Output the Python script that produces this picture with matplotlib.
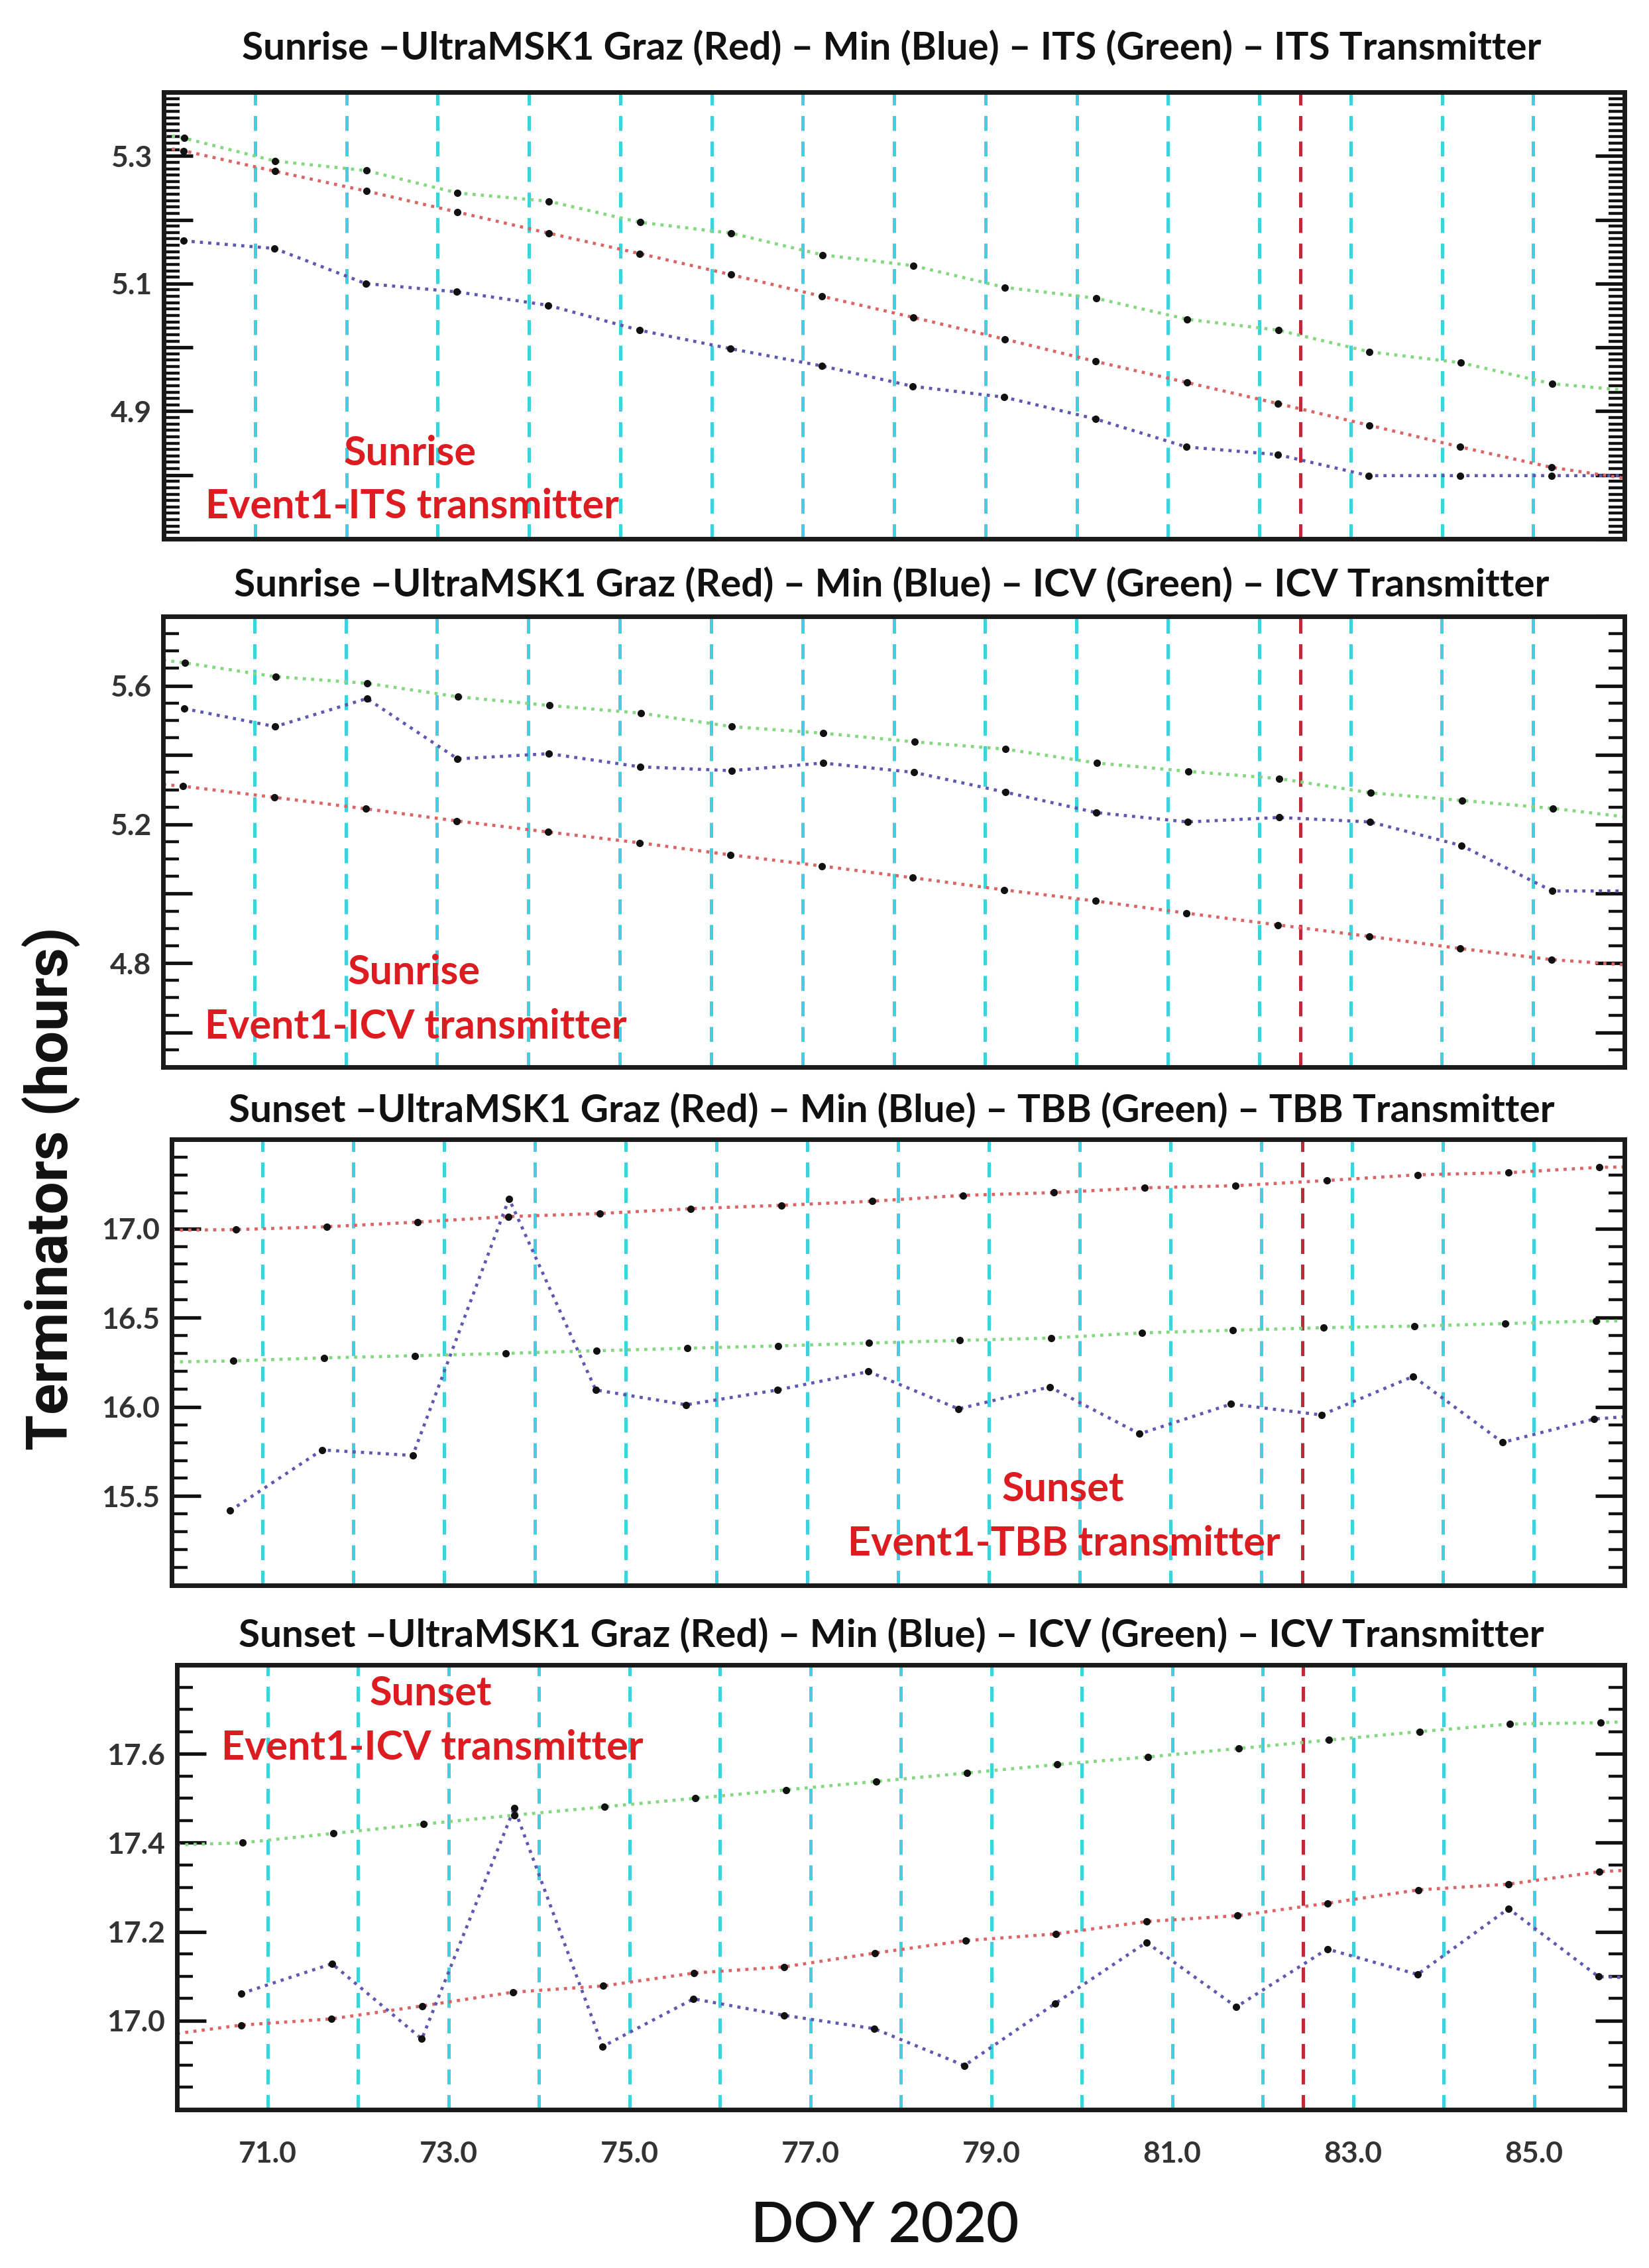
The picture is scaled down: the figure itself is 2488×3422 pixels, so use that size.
import numpy as np
import matplotlib
matplotlib.use("Agg")
import matplotlib.pyplot as plt
from matplotlib.ticker import MultipleLocator, FuncFormatter

# ---------------- data ----------------
DAYS = list(range(70, 86))          # DOY of each point (time = DOY + hours/24)
EVENT_DOY = 82.45                   # event marker (red dashed line)

# Panel 1 : Sunrise - ITS
P1_RED   = [5.308, 5.276, 5.245, 5.212, 5.179, 5.147, 5.114, 5.080, 5.047, 5.013, 4.978, 4.945, 4.912, 4.878, 4.844, 4.812]
P1_BLUE  = [5.167, 5.155, 5.100, 5.087, 5.066, 5.027, 4.998, 4.971, 4.939, 4.922, 4.888, 4.844, 4.832, 4.799, 4.799, 4.799]
P1_GREEN = [5.328, 5.292, 5.277, 5.242, 5.229, 5.196, 5.179, 5.145, 5.128, 5.094, 5.077, 5.044, 5.027, 4.993, 4.976, 4.943]
P1_EDGES = {"red": (5.313, 4.795), "blue": (None, 4.799), "green": (5.333, 4.933)}

# Panel 2 : Sunrise - ICV
P2_RED   = [5.310, 5.278, 5.245, 5.210, 5.178, 5.147, 5.112, 5.080, 5.046, 5.011, 4.979, 4.944, 4.910, 4.877, 4.842, 4.810]
P2_BLUE  = [5.534, 5.482, 5.563, 5.389, 5.404, 5.366, 5.355, 5.377, 5.350, 5.293, 5.234, 5.207, 5.220, 5.207, 5.139, 5.008]
P2_GREEN = [5.666, 5.626, 5.607, 5.568, 5.543, 5.521, 5.482, 5.463, 5.438, 5.417, 5.377, 5.353, 5.332, 5.291, 5.269, 5.246]
P2_EDGES = {"red": (5.315, 4.795), "blue": (None, 5.008), "green": (5.674, 5.222)}

# Panel 3 : Sunset - TBB
P3_RED   = [16.994, 17.010, 17.036, 17.067, 17.084, 17.111, 17.130, 17.153, 17.186, 17.201, 17.228, 17.240, 17.269, 17.301, 17.313, 17.343]
P3_BLUE  = [15.418, 15.759, 15.728, 17.167, 16.095, 16.012, 16.095, 16.198, 15.989, 16.112, 15.849, 16.016, 15.955, 16.171, 15.801, 15.932]
P3_GREEN = [16.258, 16.275, 16.287, 16.300, 16.315, 16.329, 16.342, 16.358, 16.373, 16.386, 16.415, 16.430, 16.444, 16.453, 16.467, 16.482]
P3_EDGES = {"red": (16.990, 17.345), "blue": (None, 15.945), "green": (16.252, 16.482)}

# Panel 4 : Sunset - ICV
P4_RED   = [16.990, 17.004, 17.033, 17.064, 17.078, 17.107, 17.121, 17.152, 17.180, 17.195, 17.223, 17.236, 17.264, 17.294, 17.307, 17.335]
P4_BLUE  = [17.061, 17.128, 16.959, 17.478, 16.942, 17.049, 17.012, 16.982, 16.899, 17.039, 17.176, 17.031, 17.161, 17.104, 17.252, 17.099]
P4_GREEN = [17.400, 17.421, 17.442, 17.462, 17.481, 17.500, 17.519, 17.538, 17.557, 17.576, 17.593, 17.612, 17.631, 17.650, 17.667, 17.670]
P4_EDGES = {"red": (16.971, 17.338), "blue": (None, 17.097), "green": (17.395, 17.672)}

TITLES = [
    "Sunrise \u2013UltraMSK1 Graz (Red) \u2013 Min (Blue) \u2013 ITS (Green) \u2013 ITS Transmitter",
    "Sunrise \u2013UltraMSK1 Graz (Red) \u2013 Min (Blue) \u2013 ICV (Green) \u2013 ICV Transmitter",
    "Sunset \u2013UltraMSK1 Graz (Red) \u2013 Min (Blue) \u2013 TBB (Green) \u2013 TBB Transmitter",
    "Sunset \u2013UltraMSK1 Graz (Red) \u2013 Min (Blue) \u2013 ICV (Green) \u2013 ICV Transmitter",
]
NOTES = [
    ("Sunrise", "Event1-ITS transmitter"),
    ("Sunrise", "Event1-ICV transmitter"),
    ("Sunset", "Event1-TBB transmitter"),
    ("Sunset", "Event1-ICV transmitter"),
]
Y_LIMITS = [(4.70, 5.40), (4.50, 5.80), (15.0, 17.5), (16.8, 17.8)]
Y_LABELED = [[5.3, 5.1, 4.9], [5.6, 5.2, 4.8], [17.0, 16.5, 16.0, 15.5], [17.6, 17.4, 17.2, 17.0]]
X_LABELED = [71, 73, 75, 77, 79, 81, 83, 85]
XLABEL = "DOY 2020"
YLABEL = "Terminators (hours)"

# ---------------- styling / layout ----------------
W, H = 2488, 3422
fig = plt.figure(figsize=(W / 100, H / 100), dpi=100)
fig.patch.set_facecolor("white")

C_RED, C_BLUE, C_GREEN = "#dc6464", "#5f58b0", "#84d880"
C_CYAN, C_EVENT, C_NOTE = "#40d0e0", "#bc2c38", "#dc1c20"
TITLE_FONT = dict(family=["Lato", "DejaVu Sans"], weight="bold", size=42, color="#111111")
NOTE_FONT = dict(family=["Lato", "DejaVu Sans"], weight="bold", size=44, color=C_NOTE)
TICK_FONT = dict(family=["Lato", "DejaVu Sans"], weight="bold", size=32)

# pixel boxes (left, top, right, bottom)
BOXES = [(247, 139, 2451, 813), (246, 930, 2451, 1610), (259, 1719, 2451, 2392), (267, 2512, 2451, 3183)]
TITLE_Y = [73, 883, 1676, 2468]
TITLE_X = 1345
NOTE_POS = [((619, 684), (622, 764)), ((625, 1467), (627, 1549)),
            ((1604, 2247), (1605, 2329)), ((650, 2555), (652, 2637))]
Y_STEPS = [(0.1, 0.01), (0.2, 0.05), (0.5, 0.1), (0.2, 0.05)]

series_sets = [
    (P1_RED, P1_BLUE, P1_GREEN, P1_EDGES),
    (P2_RED, P2_BLUE, P2_GREEN, P2_EDGES),
    (P3_RED, P3_BLUE, P3_GREEN, P3_EDGES),
    (P4_RED, P4_BLUE, P4_GREEN, P4_EDGES),
]

XMIN, XMAX = 70, 86


def fx(px):
    return px / W


def fy(py):
    return 1 - py / H


for i, (l, t, r, b) in enumerate(BOXES):
    ax = fig.add_axes([l / W, 1 - b / H, (r - l) / W, (b - t) / H])
    ax.set_xlim(XMIN, XMAX)
    ax.set_ylim(*Y_LIMITS[i])

    # integer-day cyan dashed grid
    ax.xaxis.set_major_locator(MultipleLocator(1))
    ax.grid(axis="x", which="major", color=C_CYAN, linestyle=(0, (4.5, 3.2)), linewidth=3.6, zorder=1)
    ax.set_axisbelow(True)
    ax.axvline(EVENT_DOY, color=C_EVENT, linestyle=(0, (4.5, 3.2)), linewidth=3.6, zorder=2)

    red, blue, green, edges = series_sets[i]
    for vals, col, key in ((red, C_RED, "red"), (green, C_GREEN, "green"), (blue, C_BLUE, "blue")):
        x = list(np.array(DAYS) + np.array(vals) / 24.0)
        y = list(vals)
        left, right = edges[key]
        if left is not None:
            x = [XMIN] + x
            y = [left] + y
        if right is not None:
            x = x + [XMAX]
            y = y + [right]
        ax.plot(x, y, linestyle=":", color=col, linewidth=3.4, zorder=3)
        xm = np.array(DAYS) + np.array(vals) / 24.0
        ax.plot(xm, vals, linestyle="none", marker="o", markersize=7,
                color="#111111", zorder=4)

    # y ticks
    maj, mnr = Y_STEPS[i]
    ax.yaxis.set_major_locator(MultipleLocator(maj))
    ax.yaxis.set_minor_locator(MultipleLocator(mnr))
    labeled = Y_LABELED[i]
    ax.yaxis.set_major_formatter(FuncFormatter(
        lambda v, p, labeled=labeled: ("%.1f" % v) if any(abs(v - q) < 1e-6 for q in labeled) else ""))
    ax.tick_params(axis="y", which="both", direction="in", left=True, right=True,
                   labelleft=True, labelright=False, colors="#111111", labelcolor="#333333", pad=13)
    ax.tick_params(axis="y", which="major", length=32, width=3.8)
    ax.tick_params(axis="y", which="minor", length=17, width=3.2)
    for lab in ax.get_yticklabels():
        lab.set(**TICK_FONT)

    # x ticks: no marks; labels only on bottom panel
    ax.tick_params(axis="x", which="both", length=0, bottom=False, top=False)
    if i == len(BOXES) - 1:
        ax.xaxis.set_major_formatter(FuncFormatter(
            lambda v, p: ("%.1f" % v) if int(round(v)) in X_LABELED and abs(v - round(v)) < 1e-6 else ""))
        ax.tick_params(axis="x", labelbottom=True, pad=34, labelcolor="#333333")
        for lab in ax.get_xticklabels():
            lab.set(**TICK_FONT)
    else:
        ax.tick_params(axis="x", labelbottom=False)

    for sp in ax.spines.values():
        sp.set_linewidth(5.0)
        sp.set_color("#1a1a1a")
        sp.set_zorder(6)

    fig.text(fx(TITLE_X), fy(TITLE_Y[i]), TITLES[i], ha="center", va="center", **TITLE_FONT)
    (p1, p2) = NOTE_POS[i]
    fig.text(fx(p1[0]), fy(p1[1]), NOTES[i][0], ha="center", va="center", **NOTE_FONT)
    fig.text(fx(p2[0]), fy(p2[1]), NOTES[i][1], ha="center", va="center", **NOTE_FONT)

fig.text(fx(1335), fy(3359), XLABEL, ha="center", va="center",
         family=["Lato", "DejaVu Sans"], weight="semibold", size=61, color="#111111")

# y label: bold face whose length is fitted to the reference (~790 px)
ylab = fig.text(fx(78), fy(1793), YLABEL, ha="center", va="center", rotation=90,
                family=["Roboto", "DejaVu Sans"], weight="bold", size=60, color="#111111")
renderer = fig.canvas.get_renderer()
length = ylab.get_window_extent(renderer).height
if length > 0:
    ylab.set_size(60 * 790.0 / length)

fig.savefig("out.png", dpi=100, facecolor="white")
